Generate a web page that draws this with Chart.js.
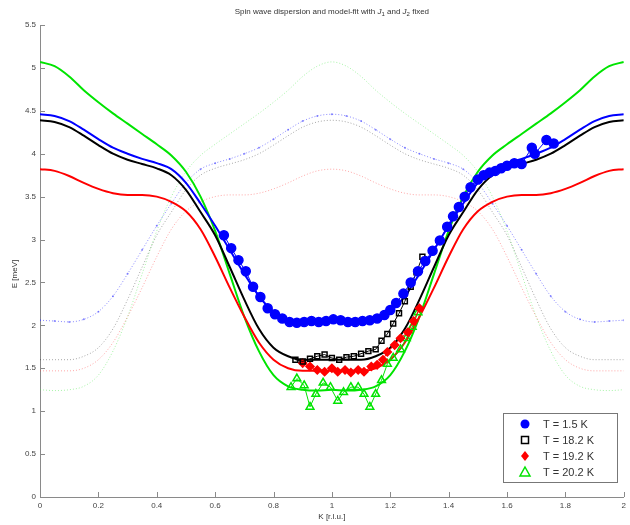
<!DOCTYPE html>
<html>
<head>
<meta charset="utf-8">
<script src="https://cdn.jsdelivr.net/npm/chart.js@4/dist/chart.umd.min.js"></script>
<style>
  html, body { margin: 0; padding: 0; background: #fff; }
  #wrap { width: 630px; height: 525px; position: relative; }
</style>
</head>
<body>
<div id="wrap"><canvas id="c"></canvas></div>
<script>
// Measured dispersion, E [meV] against K [r.l.u.]
const blueK  = [0.63,0.655,0.68,0.705,0.73,0.755,0.78,0.805,0.83,0.855,0.88,0.905,0.93,0.955,0.98,1.005,1.03,1.055,1.08,1.105,1.13,1.155,1.18,1.2,1.22,1.245,1.27,1.295,1.32,1.345,1.37,1.395,1.415,1.435,1.455,1.475,1.5,1.52,1.54,1.56,1.58,1.6,1.625,1.65,1.685,1.695,1.735,1.76];
const blueE  = [3.05,2.9,2.76,2.63,2.45,2.33,2.2,2.13,2.08,2.04,2.03,2.04,2.05,2.04,2.05,2.07,2.06,2.04,2.04,2.05,2.06,2.08,2.12,2.18,2.26,2.37,2.5,2.63,2.75,2.87,2.99,3.15,3.27,3.38,3.5,3.61,3.7,3.75,3.78,3.8,3.83,3.86,3.89,3.88,4.07,4.0,4.16,4.12];

const blackK = [0.875,0.9,0.925,0.95,0.975,1.0,1.025,1.05,1.075,1.1,1.125,1.15,1.17,1.19,1.21,1.23,1.25,1.27,1.29,1.31];
const blackE = [1.6,1.58,1.61,1.64,1.66,1.62,1.6,1.63,1.64,1.67,1.7,1.72,1.82,1.9,2.02,2.14,2.28,2.45,2.62,2.8];

const redK   = [0.9,0.925,0.95,0.975,1.0,1.02,1.045,1.065,1.09,1.11,1.135,1.155,1.175,1.19,1.215,1.235,1.26,1.28,1.3];
const redE   = [1.56,1.52,1.48,1.46,1.5,1.46,1.48,1.45,1.48,1.46,1.52,1.54,1.6,1.69,1.77,1.85,1.92,2.05,2.2];

const greenK = [0.86,0.88,0.905,0.925,0.945,0.97,0.995,1.02,1.04,1.065,1.09,1.11,1.13,1.15,1.17,1.19,1.21,1.235,1.255,1.275,1.295];
const greenE = [1.28,1.38,1.3,1.05,1.2,1.33,1.28,1.12,1.22,1.28,1.28,1.2,1.05,1.2,1.36,1.55,1.62,1.72,1.85,1.98,2.15];

// Model fits with J1 and J2 fixed, sampled along K
const fitK = [0,0.05,0.1,0.15,0.2,0.25,0.3,0.35,0.4,0.45,0.5,0.55,0.6,0.65,0.7,0.75,0.8,0.85,0.9,0.95,1.0,
              1.05,1.1,1.15,1.2,1.25,1.3,1.35,1.4,1.45,1.5,1.55,1.6,1.65,1.7,1.75,1.8,1.85,1.9,1.95,2.0];
const fitBlue  = [4.46,4.44,4.38,4.28,4.17,4.07,4.0,3.94,3.89,3.82,3.66,3.42,3.16,2.88,2.6,2.34,2.16,2.07,2.04,2.05,2.06,
                  2.05,2.04,2.07,2.16,2.34,2.6,2.88,3.16,3.42,3.66,3.82,3.89,3.94,4.0,4.07,4.17,4.28,4.38,4.44,4.46];
const fitBlack = [4.39,4.37,4.31,4.21,4.1,4.0,3.93,3.88,3.83,3.75,3.58,3.32,3.05,2.68,2.3,1.96,1.74,1.64,1.6,1.6,1.6,
                  1.6,1.6,1.64,1.74,1.96,2.3,2.68,3.05,3.32,3.58,3.75,3.83,3.88,3.93,4.0,4.1,4.21,4.31,4.37,4.39];
const fitRed   = [3.82,3.8,3.74,3.66,3.59,3.54,3.52,3.52,3.5,3.44,3.33,3.12,2.8,2.44,2.1,1.8,1.6,1.5,1.47,1.47,1.47,
                  1.47,1.47,1.5,1.6,1.8,2.1,2.44,2.8,3.12,3.33,3.44,3.5,3.52,3.52,3.54,3.59,3.66,3.74,3.8,3.82];
const fitGreen = [5.07,5.02,4.9,4.74,4.6,4.47,4.35,4.23,4.11,3.98,3.79,3.5,3.1,2.6,2.1,1.7,1.42,1.29,1.25,1.24,1.25,
                  1.24,1.25,1.29,1.42,1.7,2.1,2.6,3.1,3.5,3.79,3.98,4.11,4.23,4.35,4.47,4.6,4.74,4.9,5.02,5.07];

const legendLabels = ['T = 1.5 K', 'T = 18.2 K', 'T = 19.2 K', 'T = 20.2 K'];
const xTicks = [0,0.2,0.4,0.6,0.8,1,1.2,1.4,1.6,1.8,2];
const yTicks = [0,0.5,1,1.5,2,2.5,3,3.5,4,4.5,5,5.5];

const BLUE = '#0000ff', BLACK = '#000000', RED = '#ff0000', GREEN = '#00e400';

function pts(xs, ys) { return xs.map((x, i) => ({ x: x, y: ys[i] })); }

// The same branch one reciprocal lattice unit away, drawn dotted
function shifted(ys) {
  const out = [];
  fitK.forEach((k, i) => { if (k >= 1) out.push({ x: k - 1, y: ys[i] }); });
  fitK.forEach((k, i) => { if (k > 0 && k <= 1) out.push({ x: k + 1, y: ys[i] }); });
  return out;
}

function fitSet(ys, color) {
  return { data: pts(fitK, ys), showLine: true, borderColor: color, borderWidth: 2,
           pointRadius: 0, cubicInterpolationMode: 'monotone', order: 10 };
}
function dotSet(ys, color, r) {
  return { data: shifted(ys), showLine: true, borderColor: color, borderWidth: 1, borderDash: [1, 2],
           pointRadius: r, pointBackgroundColor: color, pointBorderWidth: 0,
           cubicInterpolationMode: 'monotone', order: 20 };
}
function dataSet(xs, ys, color, style, r, fill) {
  return { data: pts(xs, ys), showLine: true, borderColor: color, borderWidth: 1,
           pointStyle: style, pointRadius: r, pointBorderColor: color, pointBorderWidth: 1.5,
           pointBackgroundColor: fill, order: 1 };
}

// MATLAB-like frame: inward ticks, title, axis labels, boxed legend
const framePlugin = {
  id: 'frame',
  afterDraw(chart) {
    const ctx = chart.ctx, a = chart.chartArea;
    const xs = chart.scales.x, ys = chart.scales.y;
    ctx.save();
    ctx.strokeStyle = '#8a8a8a';
    ctx.lineWidth = 1;
    ctx.beginPath();
    xTicks.forEach(t => { const px = Math.round(xs.getPixelForValue(t)) + 0.5; ctx.moveTo(px, a.bottom); ctx.lineTo(px, a.bottom - 5); });
    yTicks.forEach(t => { const py = Math.round(ys.getPixelForValue(t)) + 0.5; ctx.moveTo(a.left, py); ctx.lineTo(a.left + 5, py); });
    ctx.stroke();

    // title with subscripted J1, J2
    ctx.fillStyle = '#333';
    ctx.textBaseline = 'alphabetic';
    const parts = [['Spin wave dispersion and model-fit with ', 'n'], ['J', 'i'], ['1', 's'], [' and ', 'n'], ['J', 'i'], ['2', 's'], [' fixed', 'n']];
    const fontFor = k => k === 'i' ? 'italic 8px "Liberation Sans"' : (k === 's' ? '6px "Liberation Sans"' : '8px "Liberation Sans"');
    let w = 0;
    parts.forEach(p => { ctx.font = fontFor(p[1]); w += ctx.measureText(p[0]).width; });
    let tx = (a.left + a.right) / 2 - w / 2;
    parts.forEach(p => {
      ctx.font = fontFor(p[1]);
      ctx.fillText(p[0], tx, p[1] === 's' ? 16 : 14);
      tx += ctx.measureText(p[0]).width;
    });

    // axis labels
    ctx.font = '8px "Liberation Sans"';
    ctx.textAlign = 'center';
    ctx.fillStyle = '#333';
    ctx.fillText('K [r.l.u.]', (a.left + a.right) / 2, 519);
    ctx.save();
    ctx.translate(17, 274);
    ctx.rotate(-Math.PI / 2);
    ctx.fillText('E [meV]', 0, 0);
    ctx.restore();

    // legend
    const lx = 503.5, ly = 413.5, lw = 114, lh = 69;
    ctx.fillStyle = '#fff';
    ctx.fillRect(lx, ly, lw, lh);
    ctx.strokeStyle = '#777';
    ctx.lineWidth = 1;
    ctx.strokeRect(lx, ly, lw, lh);
    const rows = [424, 440, 456, 472];
    ctx.font = '11px "Liberation Sans"';
    ctx.textAlign = 'left';
    ctx.textBaseline = 'middle';
    rows.forEach((ry, i) => {
      const mx = 525;
      ctx.lineWidth = 1.5;
      if (i === 0) { ctx.fillStyle = BLUE; ctx.beginPath(); ctx.arc(mx, ry, 4.5, 0, 2 * Math.PI); ctx.fill(); }
      if (i === 1) { ctx.strokeStyle = BLACK; ctx.strokeRect(mx - 3.5, ry - 3.5, 7, 7); }
      if (i === 2) { ctx.fillStyle = RED; ctx.beginPath(); ctx.moveTo(mx, ry - 5); ctx.lineTo(mx + 4, ry); ctx.lineTo(mx, ry + 5); ctx.lineTo(mx - 4, ry); ctx.closePath(); ctx.fill(); }
      if (i === 3) { ctx.strokeStyle = GREEN; ctx.beginPath(); ctx.moveTo(mx, ry - 5); ctx.lineTo(mx + 5, ry + 4); ctx.lineTo(mx - 5, ry + 4); ctx.closePath(); ctx.stroke(); }
      ctx.fillStyle = '#333';
      ctx.fillText(legendLabels[i], 543, ry + 1);
    });
    ctx.restore();
  }
};

new Chart(document.getElementById('c'), {
  type: 'scatter',
  data: {
    datasets: [
      dataSet(blueK, blueE, BLUE, 'circle', 4.5, BLUE),
      dataSet(blackK, blackE, BLACK, 'rect', 3.5, 'rgba(0,0,0,0)'),
      dataSet(redK, redE, RED, 'rectRot', 4, RED),
      dataSet(greenK, greenE, GREEN, 'triangle', 4.5, 'rgba(0,0,0,0)'),
      fitSet(fitBlue, BLUE),
      fitSet(fitBlack, BLACK),
      fitSet(fitRed, RED),
      fitSet(fitGreen, GREEN),
      dotSet(fitBlue, 'rgba(60,60,255,0.6)', 1),
      dotSet(fitBlack, 'rgba(0,0,0,0.35)', 0),
      dotSet(fitRed, 'rgba(255,60,60,0.45)', 0),
      dotSet(fitGreen, 'rgba(60,230,60,0.45)', 0)
    ]
  },
  options: {
    responsive: true,
    maintainAspectRatio: false,
    animation: false,
    layout: { padding: { top: 25, right: 3, left: 0, bottom: 0 } },
    plugins: { legend: { display: false }, tooltip: { enabled: false }, title: { display: false } },
    scales: {
      x: {
        type: 'linear', min: 0, max: 2,
        afterBuildTicks: s => { s.ticks = xTicks.map(v => ({ value: v })); },
        afterFit: s => { s.height = 28; },
        grid: { display: false, drawTicks: false },
        border: { display: true, color: '#8a8a8a', width: 1 },
        ticks: { font: { size: 8, family: 'Liberation Sans' }, color: '#444', padding: 4, maxRotation: 0, autoSkip: false,
                 callback: v => String(v) }
      },
      y: {
        type: 'linear', min: 0, max: 5.5,
        afterBuildTicks: s => { s.ticks = yTicks.map(v => ({ value: v })); },
        afterFit: s => { s.width = 40; },
        grid: { display: false, drawTicks: false },
        border: { display: true, color: '#8a8a8a', width: 1 },
        ticks: { font: { size: 8, family: 'Liberation Sans' }, color: '#444', padding: 4, autoSkip: false,
                 callback: v => String(v) }
      }
    }
  },
  plugins: [framePlugin]
});
</script>
</body>
</html>
